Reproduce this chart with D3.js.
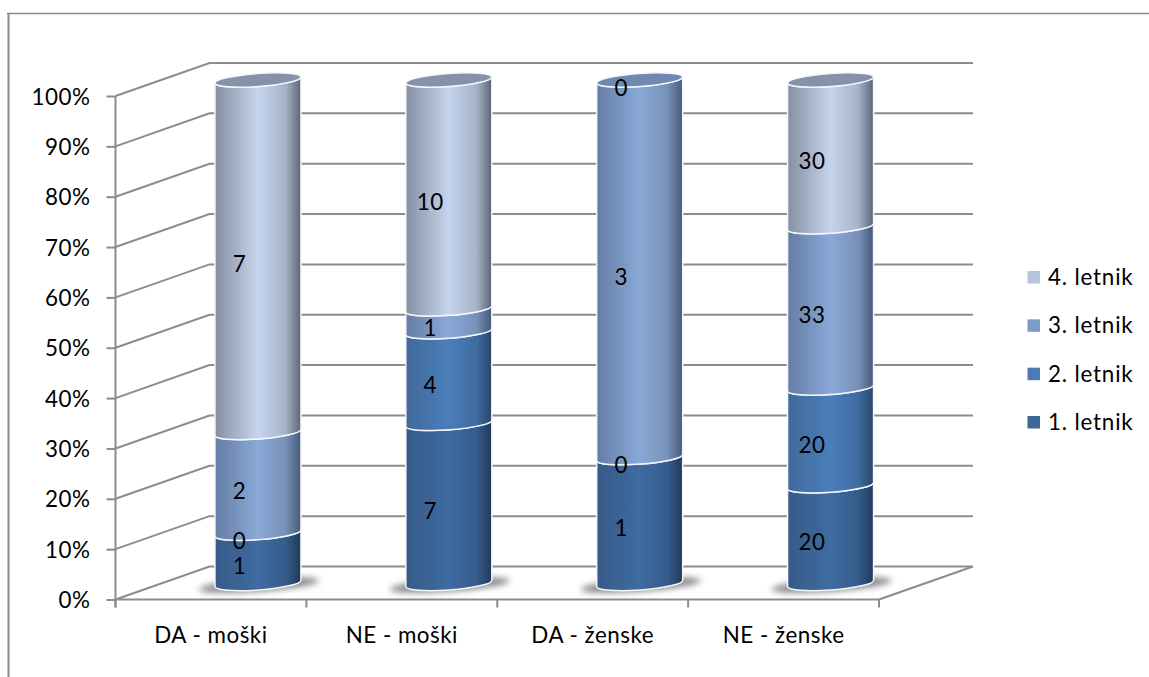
<!DOCTYPE html>
<html><head><meta charset="utf-8">
<script src="https://cdn.jsdelivr.net/npm/d3@7/dist/d3.min.js"></script>
<style>html,body{margin:0;padding:0;background:#fff}svg{display:block}text{font-family:Lato,"Open Sans",sans-serif;fill:#000}</style>
</head><body><svg id="c" width="1149" height="677"></svg>
<script>
const categories = ["DA - moški","NE - moški","DA - ženske","NE - ženske"];
const seriesNames = ["1. letnik","2. letnik","3. letnik","4. letnik"];
const letnik1 = [1,7,1,20];
const letnik2 = [0,4,0,20];
const letnik3 = [2,1,3,33];
const letnik4 = [7,10,0,30];
const seriesValues = [letnik1,letnik2,letnik3,letnik4];
const yTicks = [0,.1,.2,.3,.4,.5,.6,.7,.8,.9,1];

const gridColor = "#8c8c8c";
const fontSize = 22.4;
const ramps = [
  {l:"#375b87",m:"#3e6ba1",s:"#355d8b",r:"#21395a",cap:"#2f5078"},
  {l:"#41699a",m:"#4a7ebb",s:"#3f6ca0",r:"#28456a",cap:"#3a6494"},
  {l:"#647da3",m:"#8aa9d8",s:"#7891b8",r:"#465a78",cap:"#7089b0"},
  {l:"#858fa2",m:"#c6d5ee",s:"#a6b3c8",r:"#5a6475",cap:"#8592a8"}
];
const legendColors = ["#3d6797","#4a7bb5","#7e9ac7","#b5c4df"];

const svg = d3.select("#c");
const x0=115.5,x1=879,y0=599.5,y1=96,dx=94,dy=-33;
const x = d3.scaleBand().domain(categories).range([x0,x1]);
const y = d3.scaleLinear().domain([0,1]).range([y0,y1]);

// frame
svg.append("line").attr("x1",7).attr("x2",1149).attr("y1",13.5).attr("y2",13.5).attr("stroke","#8a8a8a").attr("stroke-width",1.5);
svg.append("line").attr("x1",8.5).attr("x2",8.5).attr("y1",13).attr("y2",677).attr("stroke","#8a8a8a").attr("stroke-width",2);

const defs = svg.append("defs");
ramps.forEach((r,i)=>{
  const g=defs.append("linearGradient").attr("id","g"+i).attr("x1","0%").attr("x2","100%").attr("y1","0%").attr("y2","0%");
  [[0,r.l],[.5,r.m],[.82,r.s],[1,r.r]].forEach(s=>g.append("stop").attr("offset",s[0]).attr("stop-color",s[1]));
});
defs.append("filter").attr("id","blur").attr("x","-30%").attr("y","-100%").attr("width","160%").attr("height","300%")
  .append("feGaussianBlur").attr("stdDeviation",3);

// walls & floor grid
const grid = svg.append("g").attr("fill","none").attr("stroke",gridColor).attr("stroke-width",2);
yTicks.forEach(t=>{
  grid.append("path").attr("d",d3.line()([[x0,y(t)],[x0+dx,y(t)+dy],[x1+dx,y(t)+dy]]));
});
grid.append("path").attr("d",d3.line()([[x1,y0],[x1+dx,y0+dy]]));

// axes
const axL = d3.axisLeft(y).tickValues(yTicks).tickFormat(d3.format(".0%")).tickSize(9).tickPadding(16);
const gL = svg.append("g").attr("transform",`translate(${x0},1)`).call(axL);
const axB = d3.axisBottom(x).tickSize(0).tickPadding(22);
const gB = svg.append("g").attr("transform",`translate(0,${y0})`).call(axB);
[gL,gB].forEach(g=>{g.selectAll("path,line").attr("stroke",gridColor).attr("stroke-width",2);
  g.selectAll("text").attr("font-size",fontSize).attr("letter-spacing",.5).style("font-family","Lato");});
gL.selectAll("line").attr("transform","translate(0,-1)");
gL.select("path").attr("d",`M0,${y0+7}V${y1-1}`);
gB.select("path").attr("d",`M${x0},0H${x1}`);
gB.selectAll("line.sep").data(categories.concat([""])).enter().append("line").attr("class","sep")
  .attr("x1",(d,i)=>x0+i*x.bandwidth()).attr("x2",(d,i)=>x0+i*x.bandwidth())
  .attr("y1",0).attr("y2",8).attr("stroke",gridColor).attr("stroke-width",2);
gB.selectAll(".tick text").attr("dy","0.35em").attr("y",36);

// cylinders
const rx=43, tiltY=3.2, ry=6.5, rot=-4.2, cylDY=-16;
categories.forEach((c,ci)=>{
  const cx = x(c)+x.bandwidth()/2+dx/2;
  const total = d3.sum(seriesValues,s=>s[ci]);
  const cyOf = v=>y(v)+cylDY;
  const grp = svg.append("g");
  // shadow
  grp.append("ellipse").attr("cx",cx+1).attr("cy",cyOf(0)+1.5).attr("rx",rx+17).attr("ry",ry)
    .attr("transform",`rotate(${rot} ${cx+1} ${cyOf(0)+1.5})`)
    .attr("fill","#555").attr("opacity",.7).attr("filter","url(#blur)");
  let acc=0, topIdx=0;
  const lab=[];
  seriesValues.forEach((s,si)=>{
    const v=s[ci]/total, a=acc, b=acc+v; acc=b;
    lab.push({t:s[ci],mid:(a+b)/2});
    if(v===0) return;
    topIdx=si;
    const ya=cyOf(a), yb=cyOf(b);
    const d=`M${cx-rx},${ya+tiltY}A${rx},${ry} ${rot} 0 0 ${cx+rx},${ya-tiltY}`+
            `L${cx+rx},${yb-tiltY}A${rx},${ry} ${rot} 0 1 ${cx-rx},${yb+tiltY}Z`;
    grp.append("path").attr("d",d).attr("fill",`url(#g${si})`)
      .attr("stroke","#f4f6fa").attr("stroke-width",1.5).attr("stroke-linejoin","round");
  });
  const yt=cyOf(1);
  grp.append("ellipse").attr("cx",cx).attr("cy",yt).attr("rx",rx).attr("ry",ry)
    .attr("transform",`rotate(${rot} ${cx} ${yt})`)
    .attr("fill",ramps[topIdx].cap).attr("stroke","#f4f6fa").attr("stroke-width",1.5);
  lab.forEach(l=>{
    grp.append("text").attr("x",cx-18.5).attr("y",cyOf(l.mid)+8).attr("dy","0.35em")
      .attr("text-anchor","middle").attr("font-size",fontSize).attr("letter-spacing",.5).text(l.t);
  });
});

// legend
const ly = d3.scalePoint().domain(seriesNames.slice().reverse()).range([277,422]);
const lg = svg.append("g");
seriesNames.forEach((n,i)=>{
  lg.append("rect").attr("x",1027.5).attr("y",ly(n)-6).attr("width",12.5).attr("height",12.5).attr("fill",legendColors[i]);
  lg.append("text").attr("x",1048).attr("y",ly(n)).attr("dy","0.35em").attr("font-size",fontSize).attr("letter-spacing",.8).text(n);
});
</script></body></html>
